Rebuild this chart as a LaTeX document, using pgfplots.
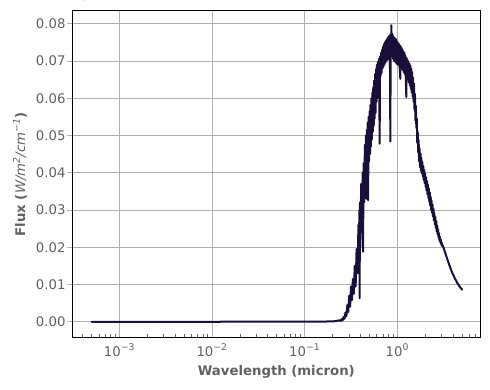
\documentclass[border=0pt]{standalone}
\usepackage{fontspec}
\setmainfont{DejaVu Sans}
\usepackage{pgfplots}
\pgfplotsset{compat=1.18}
\usepackage{pgfplotstable}
\definecolor{linec}{rgb}{0.10,0.06,0.22}
\definecolor{gridc}{rgb}{0.69,0.69,0.69}
\definecolor{textc}{rgb}{0.38,0.38,0.38}
% columns: log10 of wavelength (micron), flux
\pgfplotstableread{
lx flux
-3.30 0.0
-2.00 0.0
-1.00 0.00002
-0.80 0.00005
-0.70 0.0001
-0.66 0.0002
-0.64 0.0003
-0.62 0.0004
-0.61 0.0002
-0.60 0.0007
-0.59 0.0004
-0.58 0.0013
-0.57 0.0008
-0.56 0.0025
-0.55 0.0015
-0.54 0.0045
-0.53 0.0026
-0.52 0.0070
-0.51 0.0040
-0.50 0.0095
-0.49 0.0058
-0.48 0.0115
-0.47 0.0075
-0.46 0.0150
-0.45 0.0095
-0.44 0.0195
-0.43 0.0130
-0.42 0.0260
-0.415 0.0170
-0.41 0.0300
-0.407 0.0063
-0.404 0.0320
-0.40 0.0200
-0.39 0.0370
-0.38 0.0260
-0.375 0.0400
-0.37 0.0188
-0.365 0.0425
-0.36 0.0320
-0.35 0.0475
-0.345 0.0360
-0.34 0.0500
-0.334 0.0330
-0.33 0.0515
-0.325 0.0390
-0.32 0.0535
-0.316 0.0326
-0.31 0.0550
-0.305 0.0430
-0.30 0.0565
-0.295 0.0450
-0.29 0.0582
-0.285 0.0470
-0.28 0.0600
-0.275 0.0490
-0.27 0.0615
-0.265 0.0510
-0.26 0.0630
-0.255 0.0525
-0.25 0.0648
-0.245 0.0545
-0.24 0.0665
-0.235 0.0560
-0.23 0.0678
-0.225 0.0590
-0.22 0.0690
-0.215 0.0600
-0.21 0.0698
-0.205 0.0615
-0.20 0.0705
-0.195 0.0630
-0.191 0.0478
-0.187 0.0712
-0.18 0.0660
-0.175 0.0722
-0.17 0.0668
-0.165 0.0730
-0.16 0.0680
-0.155 0.0738
-0.15 0.0685
-0.145 0.0745
-0.14 0.0690
-0.135 0.0750
-0.13 0.0695
-0.125 0.0754
-0.12 0.0700
-0.115 0.0758
-0.11 0.0702
-0.105 0.0762
-0.10 0.0705
-0.095 0.0766
-0.09 0.0708
-0.085 0.0768
-0.08 0.0710
-0.0755 0.0484
-0.072 0.0772
-0.068 0.0712
-0.065 0.0796
-0.062 0.0715
-0.058 0.0774
-0.054 0.0712
-0.05 0.0770
-0.045 0.0705
-0.04 0.0765
-0.035 0.0700
-0.03 0.0762
-0.025 0.0698
-0.02 0.0760
-0.015 0.0695
-0.01 0.0756
-0.005 0.0692
0.00 0.0752
0.005 0.0690
0.01 0.0748
0.015 0.0688
0.02 0.0745
0.025 0.0685
0.032 0.0652
0.035 0.0740
0.04 0.0682
0.045 0.0735
0.05 0.0680
0.055 0.0730
0.06 0.0675
0.065 0.0726
0.07 0.0670
0.075 0.0722
0.08 0.0665
0.085 0.0716
0.09 0.0662
0.097 0.0603
0.10 0.0708
0.105 0.0655
0.11 0.0703
0.115 0.0650
0.12 0.0698
0.125 0.0642
0.13 0.0693
0.135 0.0635
0.14 0.0688
0.145 0.0625
0.15 0.0680
0.155 0.0615
0.16 0.0670
0.165 0.0605
0.17 0.0656
0.175 0.0590
0.18 0.0640
0.185 0.0570
0.19 0.0612
0.195 0.0540
0.20 0.0580
0.205 0.0520
0.21 0.0545
0.215 0.0480
0.22 0.0510
0.225 0.0455
0.23 0.0488
0.235 0.0430
0.24 0.0465
0.245 0.0415
0.25 0.0452
0.255 0.0405
0.26 0.0440
0.265 0.0398
0.27 0.0429
0.275 0.0390
0.28 0.0418
0.285 0.0380
0.29 0.0408
0.295 0.0372
0.30 0.0398
0.305 0.0362
0.31 0.0388
0.315 0.0352
0.32 0.0378
0.325 0.0342
0.33 0.0368
0.335 0.0332
0.34 0.0358
0.345 0.0322
0.35 0.0347
0.355 0.0312
0.36 0.0336
0.365 0.0300
0.37 0.0325
0.375 0.0292
0.38 0.0314
0.385 0.0282
0.39 0.0303
0.395 0.0272
0.40 0.0292
0.405 0.0262
0.41 0.0281
0.415 0.0252
0.42 0.0270
0.425 0.0242
0.43 0.0259
0.435 0.0234
0.44 0.0248
0.445 0.0226
0.45 0.0238
0.455 0.0218
0.46 0.0228
0.465 0.0212
0.47 0.0220
0.475 0.0206
0.48 0.0212
0.485 0.0203
0.49 0.0205
0.50 0.0198
0.53 0.0175
0.56 0.0153
0.59 0.0133
0.62 0.0117
0.65 0.0103
0.68 0.0092
0.70 0.0086
}\spec

\begin{document}
\begin{tikzpicture}
\useasboundingbox (-72.3bp,-52.3bp) rectangle (417.7bp,337.7bp);
\begin{axis}[
  at={(0,0)}, anchor=south west,
  scale only axis, width=408bp, height=327bp,
  xmode=log, xmin=3.1e-4, xmax=7.86,
  ymin=-0.00428, ymax=0.0835,
  xtick={1e-3,1e-2,1e-1,1},
  xticklabels={10\textsuperscript{−3},10\textsuperscript{−2},10\textsuperscript{−1},10\textsuperscript{0}},
  minor xtick={4e-4,5e-4,6e-4,7e-4,8e-4,9e-4,2e-3,3e-3,4e-3,5e-3,6e-3,7e-3,8e-3,9e-3,2e-2,3e-2,4e-2,5e-2,6e-2,7e-2,8e-2,9e-2,0.2,0.3,0.4,0.5,0.6,0.7,0.8,0.9,2,3,4,5,6,7},
  ytick={0,0.01,0.02,0.03,0.04,0.05,0.06,0.07,0.08},
  yticklabels={0.00,0.01,0.02,0.03,0.04,0.05,0.06,0.07,0.08},
  grid=major, major grid style={gridc, line width=0.9bp},
  axis line style={black, line width=1.1bp},
  tick align=inside, xtick pos=bottom, ytick pos=left,
  major tick length=5.6bp, minor tick length=3.3bp,
  major tick style={gridc, line width=0.9bp},
  minor tick style={textc, line width=0.7bp},
  ytick style={xshift=-5.6bp},
  tick label style={font=\fontsize{13.3}{16}\selectfont, text=textc},
  xticklabel style={anchor=base, inner sep=0pt, yshift=-18.3bp},
  yticklabel style={anchor=east, inner sep=0pt, xshift=-6.6bp},
  xlabel={\bfseries Wavelength (micron)},
  ylabel={{\bfseries Flux (}{\itshape W/m\textsuperscript{2}/cm\textsuperscript{−1}}{\bfseries )}},
  label style={font=\fontsize{13.3}{16}\selectfont, text=textc},
  xlabel style={at={(axis description cs:0.5,-0.1171)}, anchor=base},
  ylabel style={at={(axis description cs:-0.1159,0.5)}, anchor=base},
]
\addplot[linec, line width=2bp, line join=round, line cap=round]
  table[x expr={10^(\thisrow{lx})}, y=flux] {\spec};
\end{axis}
\end{tikzpicture}
\end{document}
